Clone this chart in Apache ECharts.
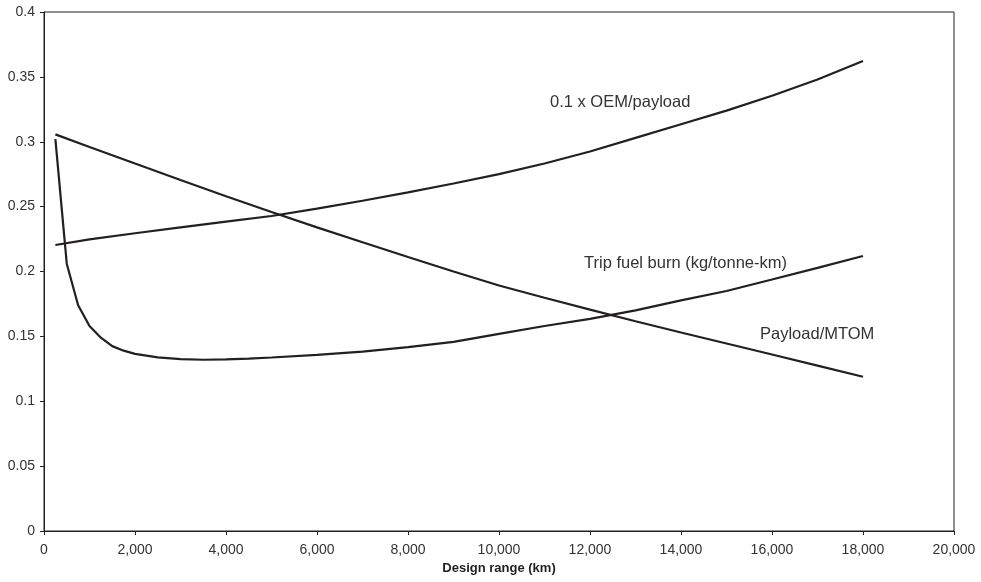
<!DOCTYPE html>
<html>
<head>
<meta charset="utf-8">
<script src="https://cdn.jsdelivr.net/npm/echarts@6/dist/echarts.min.js"></script>
<style>html,body{margin:0;padding:0;background:#fff}#c{width:981px;height:582px}</style>
</head>
<body>
<div id="c"></div>
<script>
// Design range (km)
var rangeFuel = [250, 500, 750, 1000, 1250, 1500, 1750, 2000, 2500, 3000, 3500, 4000, 4500, 5000, 6000, 7000, 8000, 9000, 10000, 11000, 12000, 13000, 14000, 15000, 16000, 17000, 18000];
var tripFuel  = [0.302, 0.206, 0.174, 0.158, 0.149, 0.1425, 0.139, 0.1365, 0.1338, 0.1325, 0.132, 0.1322, 0.1329, 0.1337, 0.1357, 0.1382, 0.1417, 0.1457, 0.1519, 0.1580, 0.1635, 0.1700, 0.1778, 0.1850, 0.1938, 0.2028, 0.2119];

var rangeMain = [250, 1000, 2000, 3000, 4000, 5000, 6000, 7000, 8000, 9000, 10000, 11000, 12000, 13000, 14000, 15000, 16000, 17000, 18000];
var oemPayload = [0.2204, 0.2248, 0.2295, 0.2340, 0.2385, 0.2428, 0.2485, 0.2545, 0.2610, 0.2678, 0.2750, 0.2832, 0.2925, 0.3030, 0.3135, 0.3240, 0.3355, 0.3480, 0.3622];
var payloadMTOM = [0.3057, 0.2960, 0.2832, 0.2705, 0.2580, 0.2458, 0.2340, 0.2225, 0.2112, 0.2000, 0.1892, 0.1798, 0.1706, 0.1617, 0.1530, 0.1445, 0.1360, 0.1275, 0.1189];

var seriesNames = ['0.1 x OEM/payload', 'Trip fuel burn (kg/tonne-km)', 'Payload/MTOM'];
var xAxisName = 'Design range (km)';

function zip(xs, ys) { return xs.map(function (x, i) { return [x, ys[i]]; }); }
function comma(v) { return String(v).replace(/\B(?=(\d{3})+(?!\d))/g, ','); }

var ink = '#231f20';
var font = 'Liberation Sans, Arial, sans-serif';
var chart = echarts.init(document.getElementById('c'), null, { renderer: 'canvas' });
var lineStyle = { color: ink, width: 2.2 };
chart.setOption({
  animation: false,
  backgroundColor: '#fff',
  grid: { left: 44, right: 27, top: 12, bottom: 51, show: true, borderColor: ink, borderWidth: 1, backgroundColor: 'transparent' },
  xAxis: {
    type: 'value', min: 0, max: 20000, interval: 2000,
    name: xAxisName, nameLocation: 'middle', nameGap: 30,
    nameTextStyle: { fontFamily: font, fontSize: 13, fontWeight: 'bold', color: ink },
    axisLine: { lineStyle: { color: ink, width: 1 } },
    axisTick: { length: 4, lineStyle: { color: ink } },
    axisLabel: { formatter: comma, fontFamily: font, fontSize: 14, color: '#333', margin: 12 },
    splitLine: { show: false }
  },
  yAxis: {
    type: 'value', min: 0, max: 0.4, interval: 0.05,
    axisLine: { show: true, lineStyle: { color: ink, width: 1 } },
    axisTick: { show: true, length: 4, lineStyle: { color: ink } },
    axisLabel: { fontFamily: font, fontSize: 14, color: '#333', margin: 9,
      formatter: function (v) { return String(Math.round(v * 100) / 100); } },
    splitLine: { show: false }
  },
  series: [
    { name: seriesNames[0], type: 'line', data: zip(rangeMain, oemPayload), symbol: 'none', lineStyle: lineStyle },
    { name: seriesNames[1], type: 'line', data: zip(rangeFuel, tripFuel), symbol: 'none', lineStyle: lineStyle },
    { name: seriesNames[2], type: 'line', data: zip(rangeMain, payloadMTOM), symbol: 'none', lineStyle: lineStyle }
  ],
  graphic: [
    { type: 'text', x: 550, y: 102, style: { text: seriesNames[0], font: '16.5px ' + font, fill: '#333', verticalAlign: 'middle' } },
    { type: 'text', x: 584, y: 263, style: { text: seriesNames[1], font: '16.5px ' + font, fill: '#333', verticalAlign: 'middle' } },
    { type: 'text', x: 760, y: 334, style: { text: seriesNames[2], font: '16.5px ' + font, fill: '#333', verticalAlign: 'middle' } }
  ]
});
</script>
</body>
</html>
